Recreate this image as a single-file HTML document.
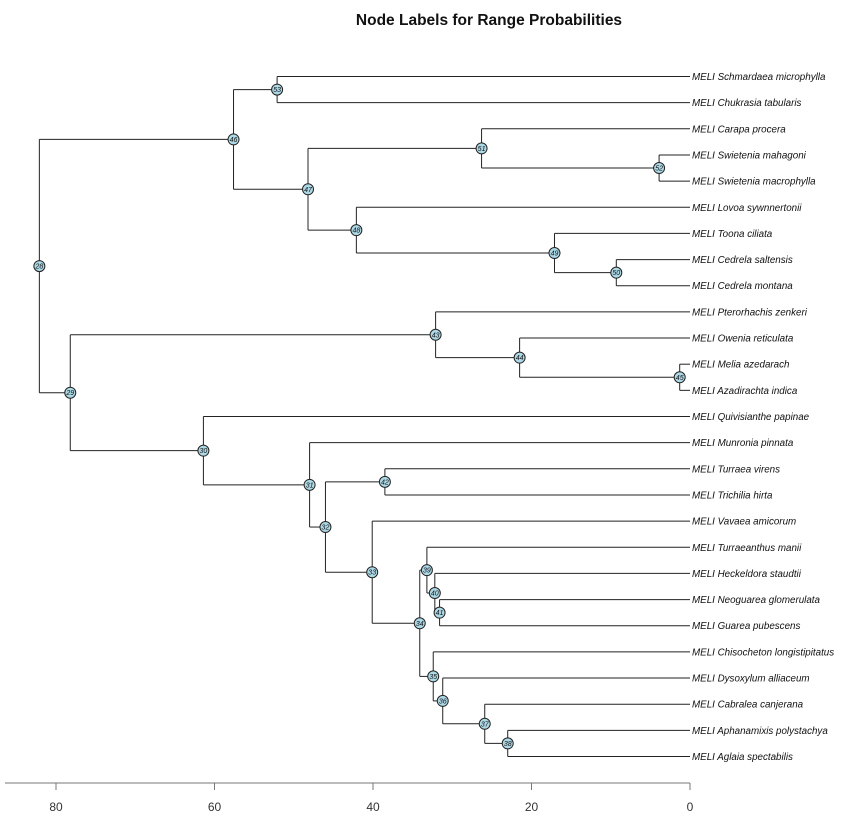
<!DOCTYPE html>
<html><head><meta charset="utf-8"><style>
body{margin:0;background:#fff;}
svg{display:block;font-family:"Liberation Sans",Arial,sans-serif;}
</style></head><body>
<svg id="chart" width="854" height="819">
<text x="489" y="25" text-anchor="middle" font-size="15.5" font-weight="bold" fill="#111">Node Labels for Range Probabilities</text>
</svg>
<script>
const tipNames = ["MELI Schmardaea microphylla","MELI Chukrasia tabularis","MELI Carapa procera","MELI Swietenia mahagoni","MELI Swietenia macrophylla","MELI Lovoa sywnnertonii","MELI Toona ciliata","MELI Cedrela saltensis","MELI Cedrela montana","MELI Pterorhachis zenkeri","MELI Owenia reticulata","MELI Melia azedarach","MELI Azadirachta indica","MELI Quivisianthe papinae","MELI Munronia pinnata","MELI Turraea virens","MELI Trichilia hirta","MELI Vavaea amicorum","MELI Turraeanthus manii","MELI Heckeldora staudtii","MELI Neoguarea glomerulata","MELI Guarea pubescens","MELI Chisocheton longistipitatus","MELI Dysoxylum alliaceum","MELI Cabralea canjerana","MELI Aphanamixis polystachya","MELI Aglaia spectabilis"];
const nodeIds = [28,29,30,31,32,33,34,35,36,37,38,39,40,41,42,43,44,45,46,47,48,49,50,51,52,53];
const nodeAges = [82.1,78.2,61.4,48.0,46.0,40.1,34.1,32.4,31.2,25.9,23.0,33.2,32.2,31.6,38.5,32.1,21.5,1.3,57.6,48.2,42.1,17.1,9.3,26.3,3.9,52.1];
const nodeChildren = {28:[46,29],46:[53,47],53:["t0","t1"],47:[51,48],51:["t2",52],52:["t3","t4"],48:["t5",49],49:["t6",50],50:["t7","t8"],29:[43,30],43:["t9",44],44:["t10",45],45:["t11","t12"],30:["t13",31],31:["t14",32],32:[42,33],42:["t15","t16"],33:["t17",34],34:[39,35],39:["t18",40],40:["t19",41],41:["t20","t21"],35:["t22",36],36:["t23",37],37:["t24",38],38:["t25","t26"]};
const axisTicks = [80,60,40,20,0];

const svg = document.getElementById('chart');
const NS = "http://www.w3.org/2000/svg";
const xs = v => 690 - v * 7.925;
const tipY = i => 76.5 + i * (680/26);
function mk(tag, attrs){const e=document.createElementNS(NS,tag);for(const k in attrs)e.setAttribute(k,attrs[k]);svg.appendChild(e);return e;}
const ageOf = {}; nodeIds.forEach((id,i)=>ageOf[id]=nodeAges[i]);
function pos(c){
  if(typeof c==="string"){const i=+c.slice(1);return {x:xs(0),y:tipY(i)};}
  const ch=nodeChildren[c].map(pos);
  return {x:xs(ageOf[c]),y:(ch[0].y+ch[ch.length-1].y)/2,ch:ch};
}
const nodePos={};
function walk(c){
  if(typeof c==="string")return;
  nodePos[c]=pos(c);
  nodeChildren[c].forEach(walk);
}
walk(28);
for(const id of nodeIds){
  const p=nodePos[id];
  const v=mk('line',{x1:p.x,y1:p.ch[0].y,x2:p.x,y2:p.ch[p.ch.length-1].y,stroke:"#222","stroke-width":1});
  
  
  for(const c of p.ch){
    const h=mk('line',{x1:p.x,y1:c.y,x2:c.x,y2:c.y,stroke:"#222","stroke-width":1});
    
    
  }
}
tipNames.forEach((n,i)=>{
  const t=mk('text',{x:692,y:tipY(i)+3.5,"font-size":9.8,"font-style":"italic",fill:"#111"});
  t.textContent=n;
  
  
});
for(const id of nodeIds){
  const p=nodePos[id];
  const c=mk('circle',{cx:p.x,cy:p.y,r:5.5,fill:"#add8e6",stroke:"#222","stroke-width":1});
  
  
  const t=mk('text',{x:p.x,y:p.y+2.5,"font-size":7,"font-style":"italic","text-anchor":"middle",fill:"#111"});
  t.textContent=id;
  
  
}
const ax=mk('line',{x1:5,y1:783,x2:xs(0),y2:783,stroke:"#777","stroke-width":1});


axisTicks.forEach(v=>{
  const tk=mk('line',{x1:xs(v),y1:783,x2:xs(v),y2:790,stroke:"#777","stroke-width":1});
  
  
  const t=mk('text',{x:xs(v),y:811,"font-size":12,"text-anchor":"middle",fill:"#333"});
  t.textContent=v;
  
  
});
</script>
</body></html>
